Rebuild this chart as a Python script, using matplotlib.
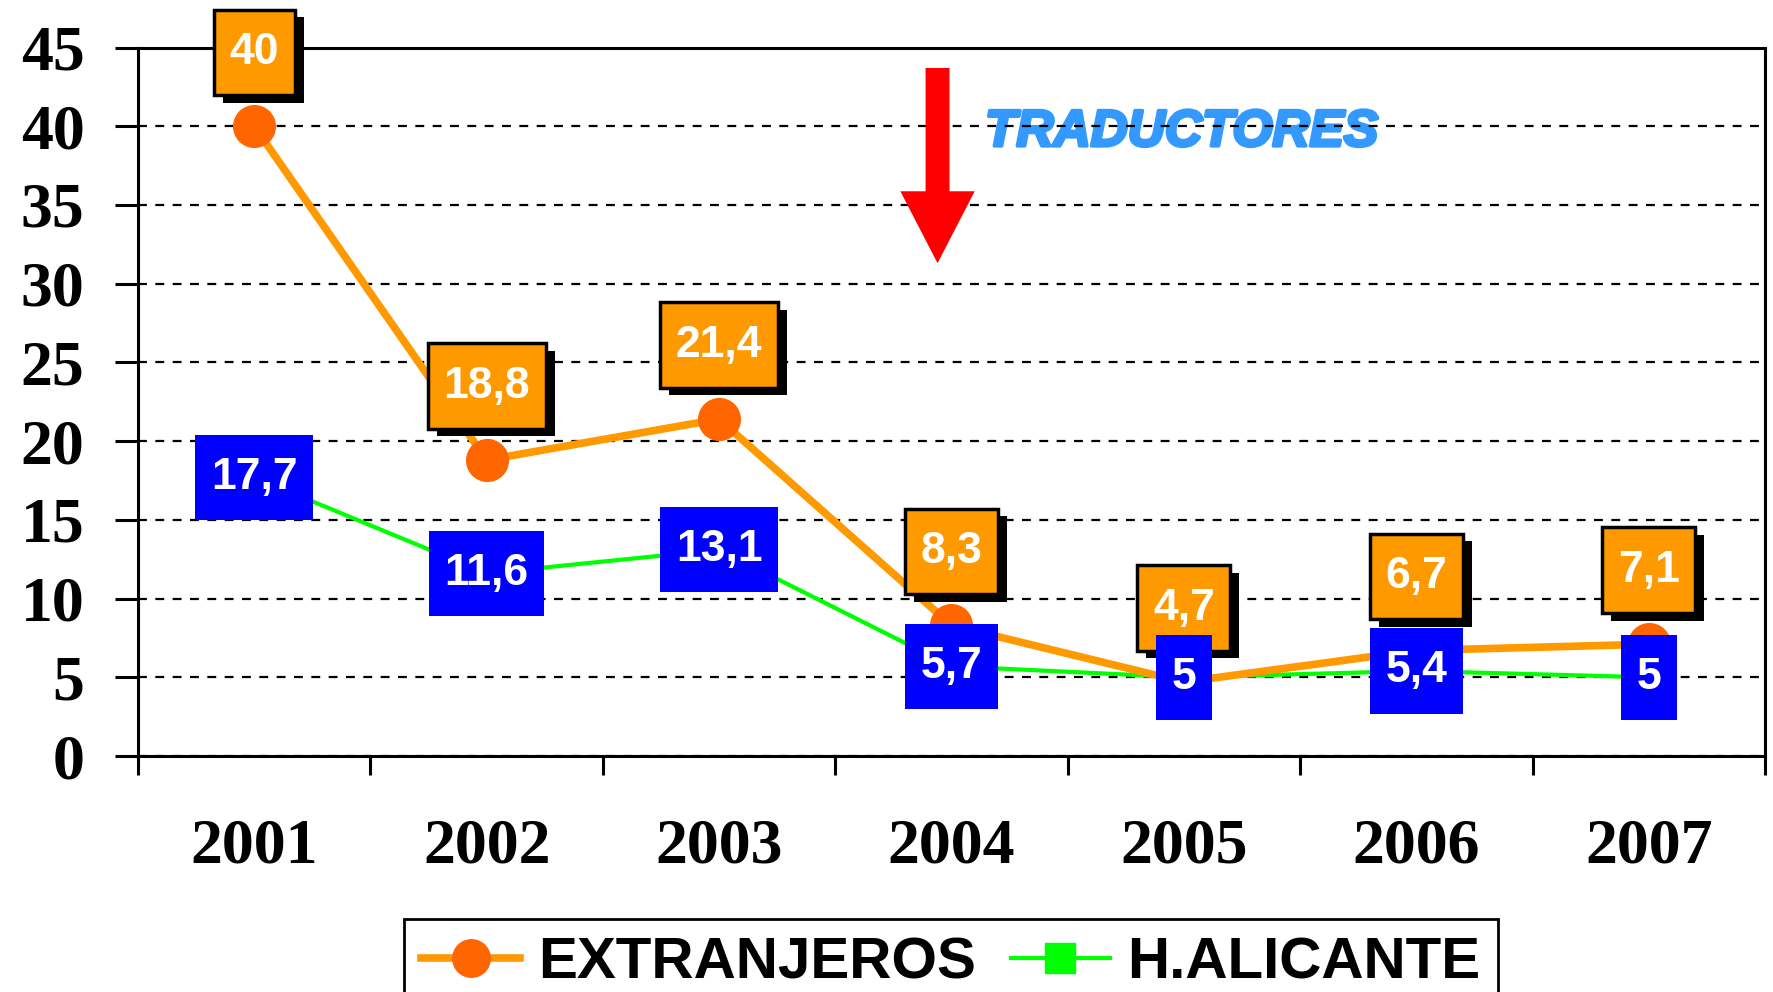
import matplotlib
matplotlib.use('Agg')
import matplotlib.pyplot as plt
from matplotlib import patheffects as pe
from matplotlib.path import Path
from matplotlib.ticker import FixedLocator

years = ['2001', '2002', '2003', '2004', '2005', '2006', '2007']
extranjeros = [40, 18.8, 21.4, 8.3, 4.7, 6.7, 7.1]
alicante = [17.7, 11.6, 13.1, 5.7, 5, 5.4, 5]
y_ticks = [0, 5, 10, 15, 20, 25, 30, 35, 40, 45]
annotation_text = 'TRADUCTORES'


def fmt(v):
    return f"{v:g}".replace('.', ',')


def label_box(x0, y0, width, height, mutation_size):
    padx = 0.35 * mutation_size
    pady = 0.5 * mutation_size
    xa, xb = x0 - padx, x0 + width + padx
    ya, yb = y0 - pady, y0 + height + pady
    return Path([(xa, ya), (xb, ya), (xb, yb), (xa, yb), (xa, ya)], closed=True)


fig = plt.figure(figsize=(17.74, 9.92), dpi=100)
ax = fig.add_axes([0.0778, 0.2379, 0.9171, 0.7142])
x = list(range(len(years)))

l1, = ax.plot(x, extranjeros, color='#FF9900', lw=5.5, marker='o', ms=30,
              mfc='#FF6600', mec='#FF6600', zorder=4, label='EXTRANJEROS')
l2, = ax.plot(x, alicante, color='#00FF00', lw=3, marker='s', ms=24,
              mfc='#00FF00', mec='#00FF00', zorder=3, label='H.ALICANTE')

for xi, v in zip(x, extranjeros):
    t = ax.annotate(fmt(v), xy=(xi, v), xytext=(0, 74), textcoords='offset pixels',
                    ha='center', va='center', fontsize=32, fontweight='bold',
                    color='white', family='Liberation Sans',
                    bbox=dict(boxstyle=label_box, fc='#FF9900', ec='black', lw=2.5),
                    zorder=6)
    t.get_bbox_patch().set_path_effects([
        pe.SimplePatchShadow(offset=(6.5, -5.5), shadow_rgbFace='black', alpha=1.0),
        pe.Normal()])

for xi, v in zip(x, alicante):
    ax.annotate(fmt(v), xy=(xi, v), xytext=(0, 0), textcoords='offset pixels',
                ha='center', va='center', fontsize=32, fontweight='bold',
                color='white', family='Liberation Sans',
                bbox=dict(boxstyle=label_box, fc='#0000FF', ec='none'),
                zorder=7)

ax.set_xlim(-0.5, len(years) - 0.5)
ax.set_ylim(0, 45)
ax.set_yticks(y_ticks)
ax.set_xticks(x)
ax.set_xticklabels(years)
ax.xaxis.set_minor_locator(FixedLocator([i - 0.5 for i in range(len(years) + 1)]))
ax.tick_params(axis='x', which='major', length=0, pad=45)
ax.tick_params(axis='x', which='minor', length=14, width=2.2, direction='out')
ax.tick_params(axis='y', length=16.5, width=2.2, pad=22)
for lab in ax.get_xticklabels() + ax.get_yticklabels():
    lab.set_fontfamily('Liberation Serif')
    lab.set_fontweight('bold')
    lab.set_fontsize(46)

for sp in ax.spines.values():
    sp.set_linewidth(2.2)
    sp.set_color('black')

ax.yaxis.grid(True, color='black', lw=1.6, linestyle=(0, (4, 3.8)))

ax.arrow(2.94, 43.7, 0, -(43.7 - 31.3), width=0.103, head_width=0.32,
         head_length=4.57, length_includes_head=True, color='red', ec='none', zorder=5)

ax.text(3.99, 38.75, annotation_text, color='#3399FF', fontsize=37, fontweight='bold',
        style='italic', family='Liberation Sans', ha='center', va='baseline', zorder=1,
        path_effects=[pe.withStroke(linewidth=2.5, foreground='#3399FF')])

leg = fig.legend(handles=[l1, l2], loc='upper center', bbox_to_anchor=(0.536, 0.0736),
                 ncol=2, prop=dict(family='Liberation Sans', weight='bold', size=42),
                 frameon=True, fancybox=False, edgecolor='black', borderpad=0.3,
                 handlelength=1.7, handletextpad=0.3, columnspacing=0.6,
                 borderaxespad=0, markerscale=0.9)
leg.get_frame().set_linewidth(2)
leg.get_frame().set_alpha(1)

fig.savefig('out.png', dpi=100)
